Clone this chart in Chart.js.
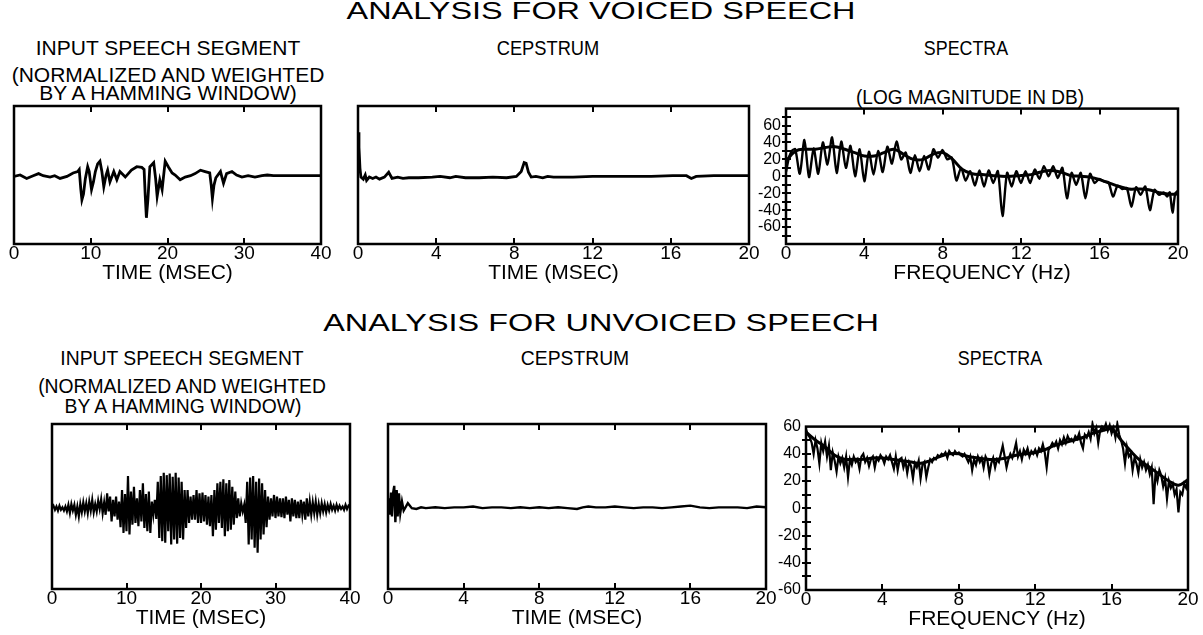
<!DOCTYPE html>
<html><head><meta charset="utf-8">
<script src="https://cdn.jsdelivr.net/npm/chart.js@4.4.0/dist/chart.umd.min.js"></script>
<style>
html,body{margin:0;padding:0;background:#fff;}
#wrap{position:relative;width:1203px;height:635px;overflow:hidden;font-family:"Liberation Sans",Arial,Helvetica,sans-serif;color:#000;}
.t{position:absolute;white-space:nowrap;line-height:1;}
canvas{position:absolute;}
</style></head><body><div id="wrap"></div>
<script>
// ---------- DATA ----------
// Voiced input speech segment (time ms, normalized amplitude)
const vInT = [0,0.8,1.65,2.5,3.2,3.8,4.7,5.3,6.0,6.9,7.7,8.3,8.5,8.7,8.85,9.05,9.3,9.6,9.8,10.1,10.35,10.6,10.9,11.2,11.45,11.7,12.0,12.2,12.5,13.0,13.4,13.8,14.5,15.3,16.0,16.65,16.95,17.1,17.25,17.45,17.7,18.2,18.45,18.65,19.0,19.3,19.7,20.1,20.6,21.0,21.65,22.3,23.0,23.6,24.3,24.9,25.5,25.7,25.85,26.05,26.3,26.9,27.3,27.7,28.4,29.0,29.7,30.5,31.4,32.3,33.0,33.8,35,40];
const vInA = [-0.02,0.0,-0.05,-0.01,0.02,-0.01,-0.03,-0.01,-0.05,-0.02,0.03,0.05,0.08,-0.2,-0.36,-0.28,-0.05,0.12,0.05,-0.21,-0.1,0.05,0.16,0.2,0.05,-0.17,0.0,0.07,-0.1,0.05,-0.07,0.05,-0.03,0.07,0.12,0.11,0.08,-0.3,-0.62,-0.35,0.12,0.18,-0.05,-0.31,-0.07,-0.21,0.2,0.12,0.03,0.0,-0.07,-0.03,-0.01,0.02,0.07,0.05,0.03,-0.15,-0.34,-0.15,-0.04,0.05,-0.12,0.02,0.05,0.0,-0.03,-0.01,-0.03,-0.01,0.0,-0.01,-0.01,-0.01];

// Voiced cepstrum (quefrency ms, amplitude)
const vCepQ = [0,0.05,0.1,0.15,0.27,0.37,0.44,0.58,0.75,0.92,1.1,1.35,1.57,1.74,2.03,2.3,2.6,3.1,3.8,4.2,4.7,5.0,5.5,6.2,6.9,7.6,8.1,8.35,8.5,8.6,8.72,8.86,9.1,9.45,9.7,10,11,12,13,14,15,16.1,16.8,17.05,17.3,18.2,20];
const vCepA = [0.62,0.4,0.1,-0.03,-0.06,0.0,-0.08,-0.03,-0.05,-0.03,-0.06,-0.03,0.04,-0.05,-0.03,-0.05,-0.04,-0.04,-0.03,-0.02,-0.04,-0.02,-0.04,-0.04,-0.03,-0.04,-0.02,0.05,0.18,0.17,0.04,-0.03,-0.02,-0.04,-0.02,-0.03,-0.03,-0.02,-0.02,-0.02,-0.02,-0.01,-0.01,-0.05,-0.02,-0.01,-0.01];

// Voiced log spectrum (frequency, dB) - harmonic peaks and valleys
const vSpecF = [0,0.15,0.3,0.47,0.705,0.94,1.175,1.41,1.645,1.88,2.115,2.35,2.585,2.82,3.055,3.29,3.525,3.76,3.995,4.23,4.465,4.70,4.935,5.17,5.405,5.64,5.875,6.11,6.345,6.58,6.815,7.05,7.285,7.52,7.755,7.99,8.225,8.46,8.695,8.93,9.165,9.40,9.635,9.87,10.105,10.34,10.575,10.81,11.045,11.28,11.515,11.75,11.985,12.22,12.455,12.69,12.925,13.16,13.395,13.63,13.865,14.10,14.335,14.57,14.805,15.04,15.275,15.51,15.745,15.98,16.215,16.45,16.685,16.92,17.155,17.39,17.625,17.86,18.095,18.33,18.565,18.80,19.035,19.27,19.45,19.58,19.72,19.86,20];
const vSpecDb = [5,22,30,32,3,43,-1,33,3,40,14,46,4,41,10,36,0,32,-6,29,2,30,5,35,15,41,20,28,4,25,6,24,8,32,22,31,20,22,-5,10,-5,6,-11,7,-12,7,-8,6,-47,4,-12,6,-8,6,-8,8,-3,12,0,12,-2,10,-26,4,-10,4,-26,3,-8,-3,-6,-7,-24,-11,-15,-14,-36,-13,-22,-12,-40,-16,-22,-19,-24,-19,-43,-20,-17];
// Voiced smoothed spectrum envelope
const vEnvF = [0,0.5,1,1.5,2,2.5,3,3.5,4,4.5,5,5.5,6,6.5,7,7.5,8,8.5,9,9.5,10,10.5,11,11.5,12,12.5,13,13.5,14,14.5,15,15.5,16,16.5,17,17.5,18,18.5,19,19.5,20];
const vEnvDb = [18,30,32,32,34,35,32,28,24,24,28,32,26,20,20,26,28,20,8,3,2,1,0,0,1,2,5,7,5,1,0,-1,-4,-8,-12,-15,-15,-16,-19,-21,-21];

// Unvoiced input speech segment: samples every 0.2 ms from 0 to 40 ms
const uInStep = 0.2;
const uInA = [
 -0.02,0.01,-0.04,0.0,-0.05,  0.01,-0.04,-0.01,-0.05,0.0,  -0.06,0.02,-0.08,0.03,-0.05,  0.02,-0.1,0.0,-0.12,0.03,
 -0.07,0.05,-0.06,0.04,-0.08,  0.06,-0.05,0.08,-0.07,0.03,  -0.06,0.07,-0.03,0.09,-0.08,  0.05,-0.1,0.16,-0.06,0.12,
 -0.18,0.08,-0.12,0.12,-0.16,  0.06,-0.25,0.2,-0.32,0.15,  -0.3,0.37,-0.34,0.18,-0.22,  0.24,-0.2,0.1,-0.24,0.2,
 -0.18,0.28,-0.26,0.15,-0.3,  0.18,-0.32,0.06,-0.1,0.08,  -0.15,0.3,-0.38,0.37,-0.42,  0.41,-0.44,0.38,-0.3,0.4,
 -0.46,0.36,-0.4,0.41,-0.45,  0.35,-0.38,0.3,-0.4,0.2,  -0.26,0.2,-0.2,0.12,-0.16,  0.14,-0.16,0.2,-0.2,0.16,
 -0.2,0.17,-0.18,0.14,-0.22,  0.12,-0.24,0.14,-0.36,0.2,  -0.28,0.28,-0.2,0.3,-0.26,  0.33,-0.36,0.28,-0.3,0.32,
 -0.28,0.24,-0.22,0.18,-0.14,  0.1,-0.12,0.04,-0.06,0.02,  -0.2,0.3,-0.46,0.35,-0.4,  0.37,-0.5,0.3,-0.56,0.34,
 -0.4,0.28,-0.34,0.2,-0.25,  0.12,-0.16,0.1,-0.12,0.14,  -0.14,0.12,-0.12,0.1,-0.13,  0.1,-0.14,0.12,-0.1,0.08,
 -0.18,0.1,-0.12,0.08,-0.14,  0.06,-0.14,0.08,-0.1,0.06,  -0.16,0.1,-0.12,0.06,-0.1,  0.05,-0.08,0.06,-0.1,0.03,
 -0.08,0.04,-0.06,0.03,-0.07,  0.02,-0.05,0.03,-0.04,0.01,  -0.05,0.02,-0.04,0.01,-0.03,  0.0,-0.04,0.02,-0.03,0.01,
 -0.01];

// Unvoiced cepstrum
const uCepQ = [0,0.03,0.09,0.16,0.21,0.26,0.33,0.39,0.46,0.51,0.58,0.65,0.74,0.83,1.05,1.26,1.5,1.75,2.0,2.5,3.0,3.5,4.0,4.5,5.0,5.5,6.0,6.5,7.0,7.5,8.0,8.5,9.0,9.5,10.0,10.3,10.6,11.0,11.5,12.0,12.5,13.0,13.5,14.0,14.5,15.0,15.5,16.0,16.5,17.0,17.5,18.0,18.5,19.0,19.5,20.0];
const uCepA = [0.0,0.1,-0.1,0.17,-0.12,0.15,0.25,-0.19,0.2,-0.12,0.16,-0.08,0.06,-0.05,0.04,-0.02,-0.03,-0.01,-0.02,-0.01,-0.02,-0.01,-0.01,0.0,-0.02,-0.01,-0.01,-0.02,-0.01,-0.02,-0.01,-0.02,-0.01,-0.02,-0.03,-0.01,0.0,-0.01,-0.01,0.0,-0.01,-0.02,-0.01,-0.01,-0.02,-0.01,0.0,0.01,-0.01,-0.02,-0.01,-0.01,-0.01,-0.02,0.0,-0.01];

// Unvoiced log spectrum: values every 0.1 from 0 to 20
const uSpecStep = 0.1;
const uSpecDb = [
 58,54,52,48,40,50,44,33,48,42,
 49,38,46,28,41,35,27,38,33,37,
 30,38,23,36,32,38,34,36,29,38,
 40,34,37,31,36,38,30,37,35,39,
 37,33,38,36,39,34,29,38,28,36,
 37,30,35,26,34,31,22,33,30,35,
 22,32,34,23,30,36,34,37,36,39,
 38,40,39,41,37,42,40,39,42,40,
 41,39,38,40,37,34,38,28,36,32,
 38,34,37,30,38,35,25,33,37,30,
 36,34,40,46,38,30,36,40,37,42,
 48,38,42,36,43,40,44,38,42,40,
 43,39,44,42,47,41,30,43,45,48,
 46,49,44,50,47,52,48,53,50,51,
 49,53,51,55,48,44,54,52,56,51,
 62,55,59,48,57,60,58,62,57,61,
 55,59,52,62,54,50,44,33,45,38,
 40,28,37,33,26,36,30,34,28,32,
 25,30,3,26,20,28,24,16,22,7,
 20,15,18,10,14,-3,12,10,18,15,
 22];
// Unvoiced smoothed envelope
const uEnvF = [0,0.5,1,1.5,2,2.5,3,3.5,4,4.5,5,5.5,6,6.5,7,7.5,8,8.5,9,9.5,10,10.5,11,11.5,12,12.5,13,13.5,14,14.5,15,15.5,16,16.5,17,17.5,18,18.5,19,19.5,20];
const uEnvDb = [56,50,45,39,36,36,36,37,37,36,35,34,33,35,38,40,40,38,37,36,36,37,39,40,41,43,46,48,50,52,55,57,58,50,42,35,30,25,20,17,21];

// Tick settings
const timeTicks40 = 10;   // 0,10,20,30,40
const timeTicks20 = 4;    // 0,4,...,20
const dbLabelStep = 20;

// ---------- HELPERS ----------
const wrap = document.getElementById('wrap');
const FONT = '"Liberation Sans", Arial, Helvetica, sans-serif';

function addText(txt, cx, cy, size, sx) {
  const d = document.createElement('div');
  d.className = 't';
  d.textContent = txt;
  d.style.fontSize = size + 'px';
  d.style.left = cx + 'px';
  d.style.top = cy + 'px';
  d.style.transform = 'translate(-50%,-50%) scaleX(' + (sx || 1) + ')';
  wrap.appendChild(d);
}

const zip = (xs, ys) => xs.map((x, i) => ({x: x, y: ys[i]}));
const grid = (step, ys) => ys.map((y, i) => ({x: +(i * step).toFixed(3), y: y}));

const framePlugin = {
  id: 'frame',
  afterDatasetsDraw(chart, args, opts) {
    const {ctx, chartArea: a, scales} = chart;
    ctx.save();
    ctx.strokeStyle = '#000';
    ctx.lineWidth = 2.5;
    ctx.strokeRect(a.left, a.top, a.right - a.left, a.bottom - a.top);
    ctx.lineWidth = 2;
    const xs = scales.x;
    xs.ticks.forEach(t => {
      if (t.value <= xs.min || t.value >= xs.max) return;
      const px = Math.round(xs.getPixelForValue(t.value));
      ctx.beginPath();
      ctx.moveTo(px, a.top); ctx.lineTo(px, a.top + 6);
      ctx.moveTo(px, a.bottom); ctx.lineTo(px, a.bottom - 6);
      ctx.stroke();
    });
    if (opts && opts.yTicks) {
      const ys = scales.y;
      ys.ticks.forEach(t => {
        if (t.value <= ys.min || t.value >= ys.max) return;
        const py = Math.round(ys.getPixelForValue(t.value));
        ctx.beginPath();
        ctx.moveTo(a.left - 4, py); ctx.lineTo(a.left + 5, py);
        ctx.stroke();
      });
    }
    ctx.restore();
  }
};

function panel(box, cfg) {
  const mL = 45, mT = 12, mR = 24, mB = 44, yW = 34;
  const w = (box.r - box.l) + mL + mR;
  const h = (box.b - box.t) + mT + mB;
  const c = document.createElement('canvas');
  c.width = w; c.height = h;
  c.style.left = (box.l - mL) + 'px';
  c.style.top = (box.t - mT) + 'px';
  c.style.width = w + 'px'; c.style.height = h + 'px';
  wrap.appendChild(c);
  const hasY = !!cfg.yLabels;
  new Chart(c.getContext('2d'), {
    type: 'line',
    data: {datasets: cfg.datasets.map(ds => Object.assign({
      borderColor: '#000', borderWidth: 2.8, pointRadius: 0, tension: 0, fill: false
    }, ds))},
    options: {
      responsive: false, animation: false, devicePixelRatio: 1,
      layout: {padding: {left: hasY ? mL - yW : mL, top: mT, right: mR, bottom: 0}},
      plugins: {legend: {display: false}, tooltip: {enabled: false}, frame: {yTicks: hasY}},
      scales: {
        x: {
          type: 'linear', min: cfg.xMin, max: cfg.xMax,
          grid: {display: false, drawTicks: false}, border: {display: false},
          ticks: {stepSize: cfg.xStep, color: '#000', padding: -2, autoSkip: false, maxRotation: 0,
                  font: {family: FONT, size: 19}},
          title: {display: true, text: cfg.xTitle, color: '#000', padding: {top: 0, bottom: 2},
                  font: {family: FONT, size: 21}},
          afterFit: s => { s.height = mB; }
        },
        y: {
          type: 'linear', display: hasY, min: cfg.yMin, max: cfg.yMax,
          grid: {display: false, drawTicks: false}, border: {display: false},
          ticks: {stepSize: 10, color: '#000', padding: 5, autoSkip: false,
                  font: {family: FONT, size: 16},
                  callback: v => (v % dbLabelStep === 0 && Math.abs(v) <= 60) ? String(v) : ''},
          afterFit: s => { s.width = hasY ? yW : 0; }
        }
      }
    },
    plugins: [framePlugin]
  });
}

// ---------- TEXT ----------
addText('ANALYSIS FOR VOICED SPEECH', 601, 11, 24, 1.35);
addText('INPUT SPEECH SEGMENT', 168, 47, 21, 1);
addText('(NORMALIZED AND WEIGHTED', 168, 74, 21, 1);
addText('BY A HAMMING WINDOW)', 168, 92, 21, 1);
addText('CEPSTRUM', 548, 47, 21, 0.87);
addText('SPECTRA', 966, 47, 21, 0.85);
addText('(LOG MAGNITUDE IN DB)', 970, 97, 20, 0.95);

addText('ANALYSIS FOR UNVOICED SPEECH', 601, 323, 24, 1.35);
addText('INPUT SPEECH SEGMENT', 182, 357, 21, 0.92);
addText('(NORMALIZED AND WEIGHTED', 182, 385, 21, 0.92);
addText('BY A HAMMING WINDOW)', 183, 405, 21, 0.92);
addText('CEPSTRUM', 575, 357, 21, 0.92);
addText('SPECTRA', 1000, 357, 21, 0.85);

// ---------- PANELS ----------
panel({l: 14, t: 106, r: 321, b: 244}, {
  xMin: 0, xMax: 40, xStep: timeTicks40, yMin: -1, yMax: 1, xTitle: 'TIME (MSEC)',
  datasets: [{data: zip(vInT, vInA)}]
});
panel({l: 358, t: 106, r: 749, b: 244}, {
  xMin: 0, xMax: 20, xStep: timeTicks20, yMin: -1, yMax: 1, xTitle: 'TIME (MSEC)',
  datasets: [{data: zip(vCepQ, vCepA)}]
});
panel({l: 786, t: 106, r: 1178, b: 244}, {
  xMin: 0, xMax: 20, xStep: timeTicks20, yMin: -80, yMax: 80, yLabels: true, xTitle: 'FREQUENCY (Hz)',
  datasets: [{data: zip(vSpecF, vSpecDb), borderWidth: 2.4, tension: 0.25}, {data: zip(vEnvF, vEnvDb), borderWidth: 3, tension: 0.4}]
});
panel({l: 52, t: 424, r: 350, b: 589}, {
  xMin: 0, xMax: 40, xStep: timeTicks40, yMin: -1, yMax: 1, xTitle: 'TIME (MSEC)',
  datasets: [{data: grid(uInStep, uInA), borderWidth: 2.2}]
});
panel({l: 388, t: 424, r: 766, b: 589}, {
  xMin: 0, xMax: 20, xStep: timeTicks20, yMin: -1, yMax: 1, xTitle: 'TIME (MSEC)',
  datasets: [{data: zip(uCepQ, uCepA), borderWidth: 2.4}]
});
panel({l: 806, t: 424, r: 1188, b: 590}, {
  xMin: 0, xMax: 20, xStep: timeTicks20, yMin: -60, yMax: 60, yLabels: true, xTitle: 'FREQUENCY (Hz)',
  datasets: [{data: grid(uSpecStep, uSpecDb), borderWidth: 2.2, clip: {left: 0, top: 6, right: 0, bottom: 0}},
             {data: zip(uEnvF, uEnvDb), borderWidth: 3, tension: 0.4}]
});
</script></body></html>
